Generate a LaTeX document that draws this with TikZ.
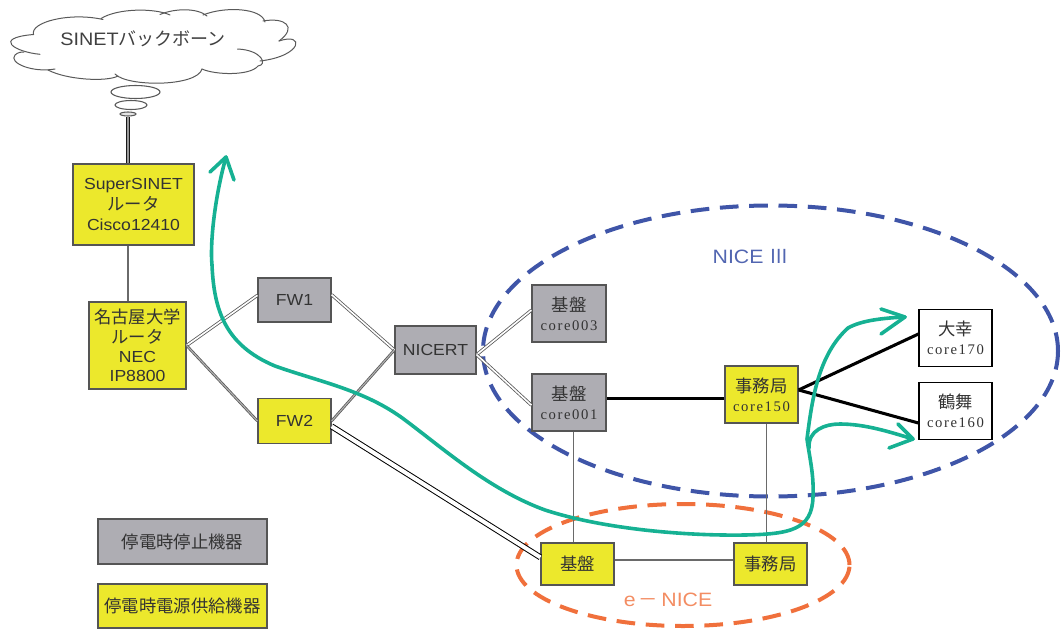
\documentclass[tikz,border=0pt]{standalone}
\usepackage{fontspec}
\usetikzlibrary{shapes.geometric}
\setmainfont[FakeStretch=1.1]{Liberation Sans}
\newfontfamily\cjk{Noto Sans CJK JP}
\newfontfamily\cser[LetterSpace=11]{Liberation Serif}
\definecolor{boxgray}{HTML}{AEADB3}
\definecolor{boxyellow}{HTML}{ECE82C}
\definecolor{edgegray}{HTML}{555555}
\definecolor{linegray}{HTML}{6A6A6A}
\definecolor{arrowgreen}{HTML}{16B193}
\definecolor{niceblue}{HTML}{3F55A8}
\definecolor{niceorange}{HTML}{F0703C}
\tikzset{
  sz/.style 2 args={minimum width=#1*0.75pt,minimum height=#2*0.75pt},
  boxbase/.style={draw=edgegray,line width=0.9pt,inner sep=0pt,align=center,text=black!80,font=\fontsize{12}{15.5}\selectfont},
  graybox/.style={boxbase,fill=boxgray},
  yellowbox/.style={boxbase,fill=boxyellow},
  whitebox/.style={boxbase,fill=white,draw=black},
  thin link/.style={draw=linegray,line width=0.95pt},
  strong link/.style={draw=black,line width=2.3pt},
  pale double/.style={draw=black!65,double=white,line width=0.6pt,double distance=1.2pt},
  dark double/.style={draw=black,double=white,line width=0.75pt,double distance=3pt},
  mid double/.style={draw=black!65,double=black!30,line width=0.6pt,double distance=0.8pt},
  stem double/.style={draw=black!90,double=black!40,line width=1.1pt,double distance=0.9pt},
  green curve/.style={draw=arrowgreen,line width=2.7pt,line cap=round,line join=round},
  cloudline/.style={draw=black!65,line width=0.75pt,line cap=round},
  nice dash/.style={line width=3pt,dash pattern=on 14pt off 8pt,ellipse,inner sep=0pt},
  bubble/.style={draw=black!65,line width=0.8pt,ellipse,inner sep=0pt,fill=white},
}
\newcommand{\jp}[1]{{\cjk\fontsize{13}{15.5}\selectfont #1}}
\newcommand{\cre}[1]{{\cser\fontsize{11}{15}\selectfont #1}}
\begin{document}
\begin{tikzpicture}[x=0.75pt,y=-0.75pt]
\useasboundingbox (0,0) rectangle (1061,629);
% ellipses
\node[nice dash,draw=niceblue,sz={575}{291}] (nicethree) at (770.5,351) {};
\node[nice dash,draw=niceorange,sz={333}{122}] (enice) at (683,565) {};
% cloud
\draw[cloudline] (40,54.3) .. controls (15,52) and (-8,38) .. (33.5,34.5)
  .. controls (30,22) and (70,12) .. (103,19.5);
\draw[cloudline] (101,18.5) .. controls (118,8) and (155,8) .. (170,15);
\draw[cloudline] (160,14.5) .. controls (175,8) and (198,8) .. (207,16);
\draw[cloudline] (203,15) .. controls (225,6) and (262,8) .. (265,22);
\draw[cloudline] (263,21) .. controls (285,17) and (298,27) .. (279,41);
\draw[cloudline] (279,41) .. controls (305,32) and (303,56) .. (260,61);
\draw[cloudline] (237.5,49) .. controls (262,50) and (268,65) .. (258,66)
  .. controls (250,76) and (215,75) .. (202,69);
\draw[cloudline] (202,69) .. controls (197,87) and (127,87) .. (115,74);
\draw[cloudline] (118,76) .. controls (107,82) and (67,80) .. (48,70);
\draw[cloudline] (55,69) .. controls (33,73) and (8,63) .. (15,55) .. controls (18,52) and (22,52) .. (24,52);
\node[font=\fontsize{13.5}{16}\selectfont,text=black!75,inner sep=0pt] (cloudlabel) at (143,39) {SINET{\cjk バックボーン}};
\node[bubble,sz={49}{13}] (bub1) at (135.5,92) {};
\node[bubble,sz={32}{9}] (bub2) at (131,105) {};
\node[bubble,fill=black!10,sz={16}{4}] (bub3) at (128,114) {};
% boxes
\node[yellowbox,sz={121}{81}] (super) at (133.5,204.5) {SuperSINET\\\jp{ルータ}\\Cisco12410};
\node[yellowbox,sz={97}{87}] (nagoya) at (137.5,345.5) {\jp{名古屋大学}\\[-1pt]\jp{ルータ}\\[-1pt]NEC\\[-1pt]IP8800};
\node[graybox,sz={73}{44}] (fw1) at (294.5,300) {FW1};
\node[yellowbox,sz={73}{45}] (fw2) at (294.5,421) {FW2};
\node[graybox,sz={81}{48}] (nicert) at (435.5,350) {NICERT};
\node[graybox,sz={74}{57}] (c003) at (569,313.5) {\jp{基盤}\\[-1pt]\cre{core003}};
\node[graybox,sz={74}{57}] (c001) at (569,402.5) {\jp{基盤}\\[-1pt]\cre{core001}};
\node[yellowbox,sz={73}{57}] (c150) at (761.5,394.5) {\jp{事務局}\\[-1pt]\cre{core150}};
\node[whitebox,sz={73}{57}] (c170) at (955.5,338) {\jp{大幸}\\[-1pt]\cre{core170}};
\node[whitebox,sz={73}{57}] (c160) at (955.5,411) {\jp{鶴舞}\\[-1pt]\cre{core160}};
\node[yellowbox,sz={73}{42}] (eb) at (577.5,564) {\jp{基盤}};
\node[yellowbox,sz={73}{42}] (ej) at (770.5,564) {\jp{事務局}};
\node[graybox,sz={169}{45}] (leg1) at (182.5,541.5) {\jp{停電時停止機器}};
\node[yellowbox,sz={169}{44}] (leg2) at (182.5,606) {\jp{停電時電源供給機器}};
% labels
\node[text=niceblue!90!white,font=\fontsize{14.5}{16}\selectfont,inner sep=0pt] (l3) at (751,257) {NICE\,\,{\cjk Ⅲ}};
\node[text=niceorange!80!white,font=\fontsize{14.5}{16}\selectfont,inner sep=0pt] (le) at (668,600) {e\,{\cjk －}\,NICE};
% connectors
\coordinate (mainlink) at (665,398.5);
\draw[stem double] (bub3.south) -- (bub3.south |- super.north);
\draw[thin link] (bub3.south |- super.south) -- (bub3.south |- nagoya.north);
\draw[pale double] (nagoya.east) -- ([yshift=3.5pt]fw1.west);
\draw[mid double] (nagoya.east) -- (fw2.west);
\draw[pale double] ([yshift=4pt]fw1.east) -- (nicert.west);
\draw[mid double] (fw2.east) -- (nicert.west);
\draw[pale double] ([yshift=-3.5pt]nicert.east) -- ([yshift=2.5pt]c003.west);
\draw[pale double] ([yshift=-3.5pt]nicert.east) -- ([yshift=-2pt]c001.west);
\draw[dark double] ([yshift=-4pt]fw2.east) -- ([yshift=5pt]eb.west);
\draw[strong link] (c001.east |- mainlink) -- (c150.west |- mainlink);
\draw[strong link] ([yshift=3.4pt]c150.east) -- ([yshift=3pt]c170.west);
\draw[strong link] ([yshift=3.4pt]c150.east) -- ([yshift=-9pt]c160.west);
\draw[thin link] ([xshift=3.4pt]c001.south) -- ([xshift=3.4pt]c001.south |- eb.north);
\draw[thin link] ([xshift=3.6pt]c150.south) -- ([xshift=3.6pt]c150.south |- ej.north);
\draw[thin link] ([yshift=3pt]eb.east) -- ([yshift=3pt]ej.west);
% green arrows
\draw[green curve] (226,157) .. controls (214,200) and (210,245) .. (212,265)
  .. controls (214,310) and (225,345) .. (275,366)
  .. controls (320,382) and (365,390) .. (405,420)
  .. controls (445,450) and (490,490) .. (545,510)
  .. controls (600,528) and (680,536) .. (745,535)
  .. controls (790,534) and (812,530) .. (813,497)
  .. controls (814,475) and (810,460) .. (807,439)
  .. controls (812,400) and (818,355) .. (848,328)
  .. controls (862,320) and (885,318) .. (905,317);
\draw[green curve] (809,448) .. controls (808,430) and (825,424) .. (840,424)
  .. controls (865,424) and (890,432) .. (913,439);
\draw[green curve] (210,172) -- (226,157) -- (234,180);
\draw[green curve] (881,309) -- (905,317) -- (881,334);
\draw[green curve] (898,424) -- (913,439) -- (889,448);
\end{tikzpicture}
\end{document}
